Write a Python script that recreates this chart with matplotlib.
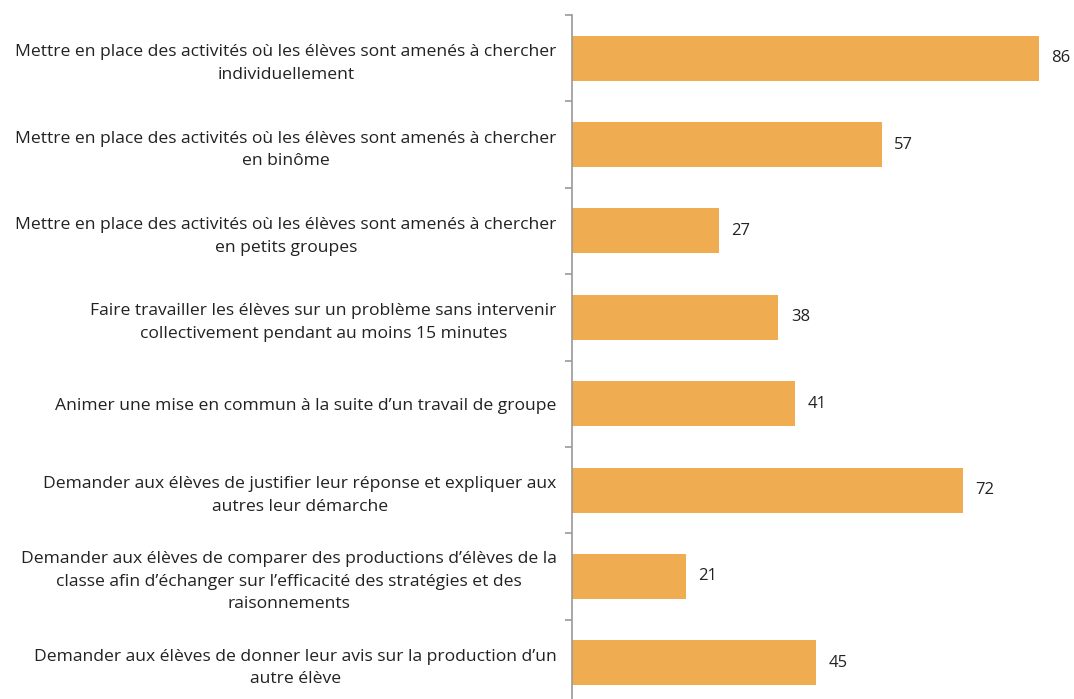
import numpy as np
import matplotlib.pyplot as plt

plt.rcParams['font.family'] = ['Open Sans', 'DejaVu Sans']

categories = [
    "Mettre en place des activités où les élèves sont amenés à chercher\nindividuellement",
    "Mettre en place des activités où les élèves sont amenés à chercher\nen binôme",
    "Mettre en place des activités où les élèves sont amenés à chercher\nen petits groupes",
    "Faire travailler les élèves sur un problème sans intervenir\ncollectivement pendant au moins 15 minutes",
    "Animer une mise en commun à la suite d\u2019un travail de groupe",
    "Demander aux élèves de justifier leur réponse et expliquer aux\nautres leur démarche",
    "Demander aux élèves de comparer des productions d\u2019élèves de la\nclasse afin d\u2019échanger sur l\u2019efficacité des stratégies et des\nraisonnements",
    "Demander aux élèves de donner leur avis sur la production d\u2019un\nautre élève",
]
values = [86, 57, 27, 38, 41, 72, 21, 45]

bar_color = '#F0AC50'
axis_color = '#999999'

fig = plt.figure(figsize=(10.74, 6.99), dpi=100)
ax = fig.add_axes([572 / 1074, -7 / 699, 502 / 1074, 691 / 699])

y = np.arange(len(categories))
ax.barh(y, values, height=0.52, color=bar_color)

for yi, v in zip(y, values):
    ax.annotate(str(v), (v, yi), xytext=(9, 0), textcoords='offset points',
                va='center', ha='left', fontsize=12, color='#222222')

ax.set_xlim(0, 502 / 5.43)
ax.set_ylim(len(categories) - 0.5, -0.5)

ax.set_yticks(y)
ax.set_yticklabels(categories, fontsize=12.6, color='#222222', multialignment='center',
                   linespacing=1.55)
ax.set_yticks(np.arange(len(categories) + 1) - 0.5, minor=True)
ax.tick_params(axis='y', which='major', length=0, pad=11)
ax.tick_params(axis='y', which='minor', length=5, color=axis_color, width=1.2)
ax.set_xticks([])

for s in ['top', 'right', 'bottom']:
    ax.spines[s].set_visible(False)
ax.spines['left'].set_color(axis_color)
ax.spines['left'].set_linewidth(1.2)

fig.savefig('out.png', dpi=100)
